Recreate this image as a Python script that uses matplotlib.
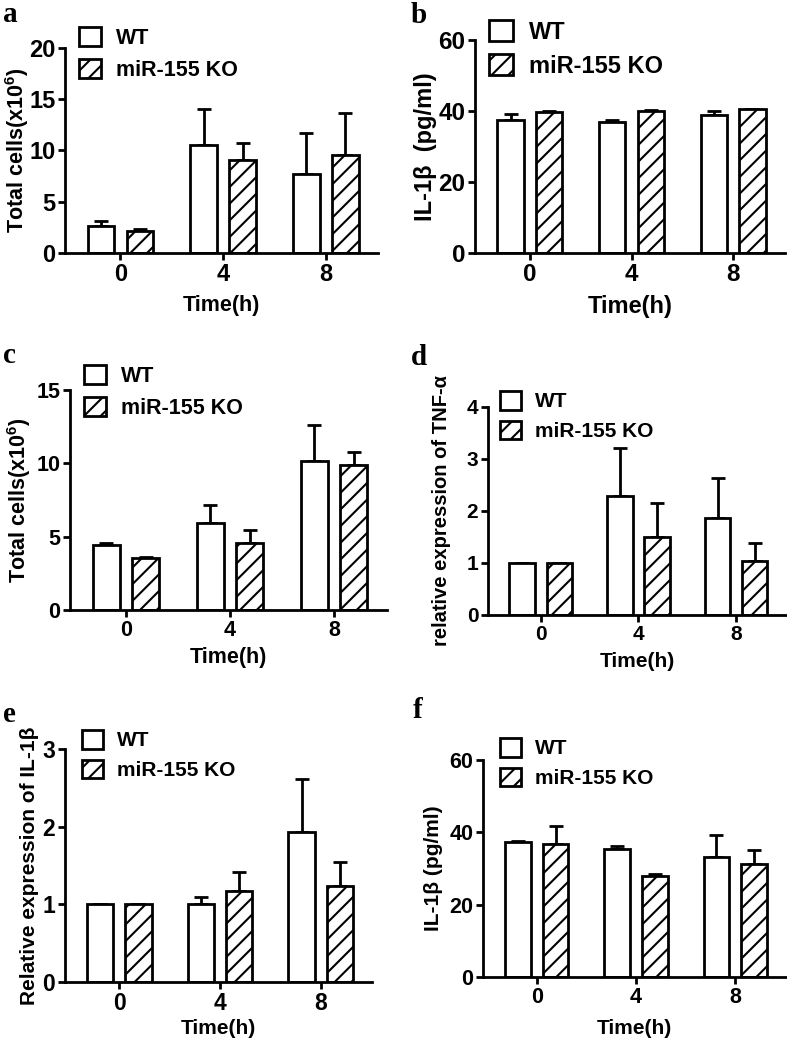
import matplotlib
matplotlib.use('Agg')
import matplotlib.pyplot as plt
from matplotlib.patches import Patch
import numpy as np

plt.rcParams['font.family'] = ['Liberation Sans', 'DejaVu Sans']
plt.rcParams['font.weight'] = 'bold'
plt.rcParams['mathtext.fontset'] = 'custom'
plt.rcParams['mathtext.bf'] = 'Liberation Sans:bold'
plt.rcParams['mathtext.rm'] = 'Liberation Sans:bold'
plt.rcParams['hatch.linewidth'] = 1.5

times = ['0', '4', '8']
groups = ['WT', 'miR-155 KO']

a_wt = [2.6, 10.55, 7.75]
a_wt_err = [0.5, 3.5, 3.95]
a_ko = [2.1, 9.1, 9.6]
a_ko_err = [0.25, 1.6, 4.1]

b_wt = [37.6, 36.9, 39.0]
b_wt_err = [1.5, 0.7, 1.0]
b_ko = [39.7, 40.1, 40.5]
b_ko_err = [0.2, 0.2, 0.2]

c_wt = [4.43, 5.95, 10.18]
c_wt_err = [0.17, 1.2, 2.4]
c_ko = [3.52, 4.6, 9.89]
c_ko_err = [0.08, 0.85, 0.9]

d_wt = [1.0, 2.28, 1.86]
d_wt_err = [0.0, 0.94, 0.78]
d_ko = [1.0, 1.5, 1.04]
d_ko_err = [0.0, 0.66, 0.35]

e_wt = [1.0, 1.01, 1.93]
e_wt_err = [0.0, 0.08, 0.68]
e_ko = [1.0, 1.17, 1.24]
e_ko_err = [0.0, 0.24, 0.31]

f_wt = [37.4, 35.5, 33.1]
f_wt_err = [0.2, 0.7, 6.2]
f_ko = [36.8, 27.8, 31.2]
f_ko_err = [5.0, 0.8, 3.9]

W, H = 787, 1046
fig = plt.figure(figsize=(W / 100, H / 100), dpi=100)

# (letter, wt, wt_err, ko, ko_err, ymax, ystep, ylabel,
#  axis px (left, right, top, bottom), letter px, legend px, xlabel top px,
#  ylabel right-edge px, label fontsize, ylabel fontsize, tick fontsize)
panels = [
    ('a', a_wt, a_wt_err, a_ko, a_ko_err, 20, 5, r'Total cells(x10$^{\mathbf{6}}$)',
     (65, 378, 48, 253), (3, 22), (79, 27), 295, 31, 15.5, 15.5, 17),
    ('b', b_wt, b_wt_err, b_ko, b_ko_err, 60, 20, 'IL-1β  (pg/ml)',
     (475, 785, 40, 253), (411, 23), (489, 20), 295, 437, 17, 17, 17.5),
    ('c', c_wt, c_wt_err, c_ko, c_ko_err, 15, 5, r'Total cells(x10$^{\mathbf{6}}$)',
     (70, 387, 390, 610), (3, 363), (84, 365), 647, 33, 15.5, 15.5, 15.5),
    ('d', d_wt, d_wt_err, d_ko, d_ko_err, 4, 1, 'relative expression of TNF-α',
     (488, 786, 407, 615), (411, 365), (500, 391), 652, 451, 15, 14.5, 15),
    ('e', e_wt, e_wt_err, e_ko, e_ko_err, 3, 1, 'Relative expression of IL-1β',
     (65, 372, 749, 982), (3, 722), (82, 730), 1019, 39, 15, 15, 16.5),
    ('f', f_wt, f_wt_err, f_ko, f_ko_err, 60, 20, 'IL-1β (pg/ml)',
     (483, 786, 760, 977), (413, 718), (500, 738), 1019, 443, 15, 15, 15.5),
]

x = np.arange(len(times))
off = 0.19
bw = 0.26
lw = 2.0

for (letter, wt, wte, ko, koe, ymax, ystep, ylab, (l, r, t, b), (lx, ly),
     (gx, gy), xlab_top, ylab_right, fs, yfs, tfs) in panels:
    ax = fig.add_axes([l / W, 1 - b / H, (r - l) / W, (b - t) / H])
    ax.errorbar(x - off, wt, yerr=[np.zeros(len(wt)), wte], fmt='none',
                ecolor='black', elinewidth=lw, capsize=5, capthick=lw, zorder=1)
    ax.errorbar(x + off, ko, yerr=[np.zeros(len(ko)), koe], fmt='none',
                ecolor='black', elinewidth=lw, capsize=5, capthick=lw, zorder=1)
    ax.bar(x - off, wt, width=bw, facecolor='white', edgecolor='black',
           linewidth=lw, zorder=2)
    ax.bar(x + off, ko, width=bw, facecolor='white', edgecolor='black',
           linewidth=lw, hatch='//', zorder=2)
    ax.set_xlim(-0.54, 2.51)
    ax.set_ylim(0, ymax)
    ax.set_yticks(np.arange(0, ymax + 0.001, ystep))
    ax.set_xticks(x)
    ax.set_xticklabels(times)
    ax.spines['top'].set_visible(False)
    ax.spines['right'].set_visible(False)
    for s in ('left', 'bottom'):
        ax.spines[s].set_linewidth(lw)
    ax.tick_params(axis='both', direction='out', length=5, width=lw,
                   labelsize=tfs, pad=2)
    for tl in ax.get_xticklabels() + ax.get_yticklabels():
        tl.set_fontweight('bold')
    ax.set_xlabel('Time(h)', fontsize=fs, fontweight='bold')
    ax.xaxis.set_label_coords(0.5, (b - xlab_top) / (b - t))
    ax.set_ylabel(ylab, fontsize=yfs, fontweight='bold')
    ax.yaxis.set_label_coords((ylab_right - l) / (r - l), 0.5)
    ax.patch.set_alpha(0)

    handles = [Patch(facecolor='white', edgecolor='black', linewidth=lw),
               Patch(facecolor='white', edgecolor='black', linewidth=lw, hatch='//')]
    ax.legend(handles, groups, loc='upper left',
              bbox_to_anchor=(gx / W, 1 - gy / H),
              bbox_transform=fig.transFigure, frameon=False,
              borderpad=0, borderaxespad=0, handlelength=1.0,
              handleheight=1.0, handletextpad=0.7, labelspacing=0.45,
              prop={'weight': 'bold', 'size': fs})

    fig.text(lx / W, 1 - ly / H, letter, family='Liberation Serif',
             fontweight='bold', fontsize=21, ha='left', va='baseline')

fig.savefig('out.png', dpi=100)
